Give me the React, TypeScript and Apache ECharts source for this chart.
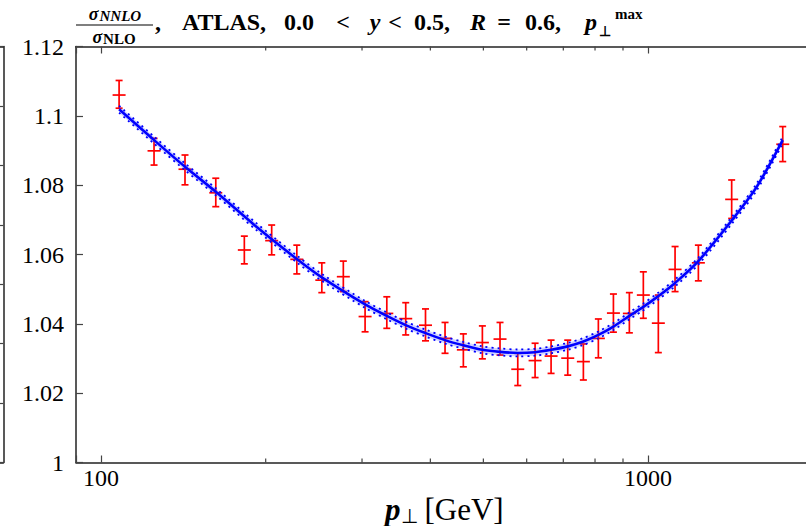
import React, { useEffect, useRef } from 'react';
import * as echarts from 'echarts';

// ---- data ----
const ptX = [107.9, 125.0, 142.4, 162.1, 182.8, 205.1, 228.0, 253.3, 277.3, 303.9, 333.0, 360.6, 391.9, 425.5, 459.6, 497.9, 536.3, 577.9, 621.6, 664.9, 713.2, 761.7, 811.3, 864.4, 924.4, 980.4, 1044.3, 1120.5, 1236, 1422, 1763];
const ptY = [1.1060, 1.0899, 1.0846, 1.0778, 1.0613, 1.0640, 1.0586, 1.0526, 1.0536, 1.0421, 1.0430, 1.0415, 1.0396, 1.0358, 1.0325, 1.0346, 1.0356, 1.0269, 1.0294, 1.0307, 1.0301, 1.0291, 1.0358, 1.0431, 1.0430, 1.0483, 1.0402, 1.0557, 1.0576, 1.0759, 1.0918];
const ptLow = [1.1022, 1.0858, 1.0801, 1.0738, 1.0573, 1.0599, 1.0544, 1.0490, 1.0493, 1.0377, 1.0387, 1.0368, 1.0351, 1.0315, 1.0276, 1.0299, 1.0310, 1.0222, 1.0245, 1.0257, 1.0252, 1.0238, 1.0302, 1.0376, 1.0374, 1.0416, 1.0317, 1.0493, 1.0524, 1.0704, 1.0868];
const ptHigh = [1.1102, 1.0935, 1.0887, 1.0820, 1.0653, 1.0685, 1.0627, 1.0576, 1.0581, 1.0464, 1.0478, 1.0461, 1.0443, 1.0404, 1.0371, 1.0394, 1.0404, 1.0315, 1.0344, 1.0353, 1.0353, 1.0342, 1.0414, 1.0486, 1.0490, 1.0550, 1.0483, 1.0623, 1.0627, 1.0815, 1.0969];

const fitX = [107.9, 125.0, 142.4, 162.1, 191.1, 228.0, 253.3, 303.9, 333.0, 362.2, 391.1, 425.5, 459.6, 497.9, 536.3, 577.9, 621.6, 664.9, 713.2, 761.7, 811.3, 864.4, 924.4, 980.4, 1044.3, 1120.5, 1236, 1422, 1580, 1763];
const fitY = [1.1019, 1.0930, 1.0853, 1.0781, 1.0684, 1.0587, 1.0534, 1.0456, 1.0423, 1.0395, 1.0374, 1.0353, 1.0338, 1.0325, 1.0319, 1.0316, 1.0318, 1.0325, 1.0335, 1.0349, 1.0368, 1.0392, 1.0423, 1.0449, 1.0480, 1.0518, 1.0581, 1.0698, 1.0795, 1.0930];
const FIT_UNC = 0.001;

const xMin = 90;
const xMax = 2000;
const yMin = 1;
const yMax = 1.12;
const yStep = 0.02;
const majorTickVals = [100, 1000];
const minorTickVals = [200, 300, 400, 500, 600, 700, 800, 900];

const SERIF = '"Liberation Serif", "Times New Roman", serif';

export default function App() {
  const ref = useRef<HTMLDivElement>(null);

  useEffect(() => {
    const chart = echarts.init(ref.current!, null, { renderer: 'svg' });

    const axisLineStyle = { color: '#222', width: 1.5 };
    const tickStyle = { color: '#444', width: 1.2 };

    const titleFont = (italic: boolean) => `${italic ? 'italic ' : ''}bold 24px ${SERIF}`;
    const tPiece = (text: string, x: number, italic = false) => ({
      type: 'text',
      x,
      y: 22,
      style: {
        text,
        font: titleFont(italic),
        fill: '#000',
        align: 'center',
        verticalAlign: 'middle',
        textAlign: 'center',
        textVerticalAlign: 'middle',
      },
    });

    const option: any = {
      animation: false,
      backgroundColor: '#fff',
      grid: [
        { left: 76, top: 46.5, width: 736.7, height: 416, outerBoundsMode: 'none', containLabel: false },
        { left: -200, top: 46.5, width: 203.3, height: 416, outerBoundsMode: 'none', containLabel: false },
      ],
      xAxis: [
        {
          type: 'log',
          gridIndex: 0,
          min: xMin,
          max: xMax,
          logBase: 10,
          position: 'bottom',
          axisLine: { show: true, onZero: false, lineStyle: axisLineStyle },
          axisTick: { show: true, inside: true, length: 7, lineStyle: tickStyle },
          minorTick: { show: false },
          splitLine: { show: false },
          axisLabel: {
            show: true,
            margin: 3,
            fontFamily: SERIF,
            fontSize: 24,
            color: '#000',
            formatter: (v: number) => {
              const l = Math.log10(v);
              return Math.abs(l - Math.round(l)) < 1e-6 && majorTickVals.includes(Math.round(v)) ? String(Math.round(v)) : '';
            },
          },
          name: '{p|p}{perp|⊥}{g|[GeV]}',
          nameLocation: 'middle',
          nameGap: 24,
          nameTextStyle: {
            rich: {
              p: { fontFamily: SERIF, fontSize: 31, fontWeight: 'bold', fontStyle: 'italic', color: '#000' },
              perp: { fontFamily: SERIF, fontSize: 20, color: '#000', padding: [12, 0, 0, 0] },
              g: { fontFamily: SERIF, fontSize: 31, color: '#000', padding: [0, 0, 0, 7] },
            },
          },
        },
        {
          type: 'log',
          gridIndex: 0,
          min: xMin,
          max: xMax,
          logBase: 10,
          position: 'top',
          axisLine: { show: true, onZero: false, lineStyle: axisLineStyle },
          axisTick: { show: true, inside: true, length: 7, lineStyle: tickStyle },
          axisLabel: { show: false },
          splitLine: { show: false },
        },
        {
          type: 'value', gridIndex: 1, min: 0, max: 1, position: 'bottom',
          axisLine: { show: true, onZero: false, lineStyle: axisLineStyle }, axisTick: { show: false }, axisLabel: { show: false }, splitLine: { show: false },
        },
        {
          type: 'value', gridIndex: 1, min: 0, max: 1, position: 'top',
          axisLine: { show: true, onZero: false, lineStyle: axisLineStyle }, axisTick: { show: false }, axisLabel: { show: false }, splitLine: { show: false },
        },
      ],
      yAxis: [
        {
          type: 'value',
          gridIndex: 0,
          min: yMin,
          max: yMax,
          interval: yStep,
          position: 'left',
          axisLine: { show: true, onZero: false, lineStyle: axisLineStyle },
          axisTick: { show: true, inside: true, length: 7, lineStyle: tickStyle },
          splitLine: { show: false },
          axisLabel: {
            margin: 12,
            fontFamily: SERIF,
            fontSize: 24,
            color: '#000',
            formatter: (v: number) => String(+v.toFixed(2)),
          },
        },
        {
          type: 'value',
          gridIndex: 1,
          min: 0,
          max: 7,
          interval: 1,
          position: 'right',
          axisLine: { show: true, onZero: false, lineStyle: axisLineStyle },
          axisTick: { show: true, inside: true, length: 4, lineStyle: tickStyle },
          axisLabel: { show: false },
          splitLine: { show: false },
        },
      ],
      series: [
        {
          name: 'minor ticks',
          type: 'custom',
          xAxisIndex: 0,
          yAxisIndex: 0,
          clip: false,
          silent: true,
          data: minorTickVals.map((v) => [v, yMin]),
          encode: { x: 0, y: 1 },
          renderItem: (params: any, api: any) => {
            const v = api.value(0);
            const b = api.coord([v, yMin]);
            const t = api.coord([v, yMax]);
            const st = { stroke: '#444', lineWidth: 1.2 };
            return {
              type: 'group',
              children: [
                { type: 'line', shape: { x1: b[0], y1: b[1], x2: b[0], y2: b[1] - 4 }, style: st },
                { type: 'line', shape: { x1: t[0], y1: t[1], x2: t[0], y2: t[1] + 4 }, style: st },
              ],
            };
          },
        },
        {
          name: 'ATLAS data',
          type: 'custom',
          xAxisIndex: 0,
          yAxisIndex: 0,
          silent: true,
          data: ptX.map((x, i) => [x, ptY[i], ptLow[i], ptHigh[i]]),
          encode: { x: 0, y: [1, 2, 3] },
          renderItem: (params: any, api: any) => {
            const x = api.value(0);
            const c = api.coord([x, api.value(1)]);
            const lo = api.coord([x, api.value(2)]);
            const hi = api.coord([x, api.value(3)]);
            const st = { stroke: '#ff0000', lineWidth: 1.7 };
            return {
              type: 'group',
              children: [
                { type: 'line', shape: { x1: c[0], y1: hi[1], x2: c[0], y2: lo[1] }, style: st },
                { type: 'line', shape: { x1: c[0] - 3.5, y1: hi[1], x2: c[0] + 3.5, y2: hi[1] }, style: st },
                { type: 'line', shape: { x1: c[0] - 3.5, y1: lo[1], x2: c[0] + 3.5, y2: lo[1] }, style: st },
                { type: 'line', shape: { x1: c[0] - 6.5, y1: c[1], x2: c[0] + 6.5, y2: c[1] }, style: st },
              ],
            };
          },
        },
        {
          name: 'fit band',
          type: 'custom',
          xAxisIndex: 0,
          yAxisIndex: 0,
          silent: true,
          data: [[fitX[0], fitY[0]]],
          encode: { x: 0, y: 1 },
          renderItem: (params: any, api: any) => {
            const upper = fitX.map((x, i) => api.coord([x, fitY[i] + FIT_UNC]));
            const lower = fitX.map((x, i) => api.coord([x, fitY[i] - FIT_UNC])).reverse();
            return {
              type: 'polygon',
              shape: { points: upper.concat(lower) },
              style: { fill: 'rgba(70,90,255,0.25)', stroke: 'none' },
            };
          },
        },
        {
          name: 'fit upper',
          type: 'line',
          smooth: 0.3,
          symbol: 'none',
          silent: true,
          lineStyle: { color: '#0000ff', width: 1.8, type: [2, 4] },
          data: fitX.map((x, i) => [x, fitY[i] + FIT_UNC]),
        },
        {
          name: 'fit lower',
          type: 'line',
          smooth: 0.3,
          symbol: 'none',
          silent: true,
          lineStyle: { color: '#0000ff', width: 1.8, type: [2, 4] },
          data: fitX.map((x, i) => [x, fitY[i] - FIT_UNC]),
        },
        {
          name: 'fit',
          type: 'line',
          smooth: 0.3,
          symbol: 'none',
          silent: true,
          lineStyle: { color: '#0000ff', width: 2.6 },
          data: fitX.map((x, i) => [x, fitY[i]]),
        },
      ],
      graphic: [
        {
          type: 'text',
          x: 115,
          y: 14,
          style: {
            text: '{s|σ}{n|NNLO}',
            rich: {
              s: { fontFamily: SERIF, fontSize: 18, fontWeight: 'bold', fontStyle: 'italic', fill: '#000' },
              n: { fontFamily: SERIF, fontSize: 15, fontWeight: 'bold', fontStyle: 'italic', fill: '#000', padding: [3, 0, 0, 1] },
            },
            align: 'center', verticalAlign: 'middle', textAlign: 'center', textVerticalAlign: 'middle',
          },
        },
        { type: 'line', shape: { x1: 76, y1: 25, x2: 153, y2: 25 }, style: { stroke: '#000', lineWidth: 1.2 } },
        {
          type: 'text',
          x: 114,
          y: 37,
          style: {
            text: '{s|σ}{n|NLO}',
            rich: {
              s: { fontFamily: SERIF, fontSize: 18, fontWeight: 'bold', fontStyle: 'italic', fill: '#000' },
              n: { fontFamily: SERIF, fontSize: 15, fontWeight: 'bold', fill: '#000', padding: [3, 0, 0, 1] },
            },
            align: 'center', verticalAlign: 'middle', textAlign: 'center', textVerticalAlign: 'middle',
          },
        },
        tPiece(',', 158),
        tPiece('ATLAS,', 224),
        tPiece('0.0', 299),
        tPiece('<', 343),
        tPiece('y', 375, true),
        tPiece('<', 395),
        tPiece('0.5,', 432),
        tPiece('R', 478, true),
        tPiece('=', 504),
        tPiece('0.6,', 543),
        tPiece('p', 591, true),
        {
          type: 'text', x: 615, y: 14,
          style: { text: 'max', font: `bold 15px ${SERIF}`, fill: '#000', align: 'left', verticalAlign: 'middle', textAlign: 'left', textVerticalAlign: 'middle' },
        },
        {
          type: 'text', x: 605, y: 31,
          style: { text: '⊥', font: `bold 14px ${SERIF}`, fill: '#000', align: 'center', verticalAlign: 'middle', textAlign: 'center', textVerticalAlign: 'middle' },
        },
      ],
    };

    chart.setOption(option);
    return () => chart.dispose();
  }, []);

  return (
    <div
      ref={ref}
      style={{ position: 'fixed', left: 0, top: 0, width: 806, height: 526, background: '#fff' }}
    />
  );
}
